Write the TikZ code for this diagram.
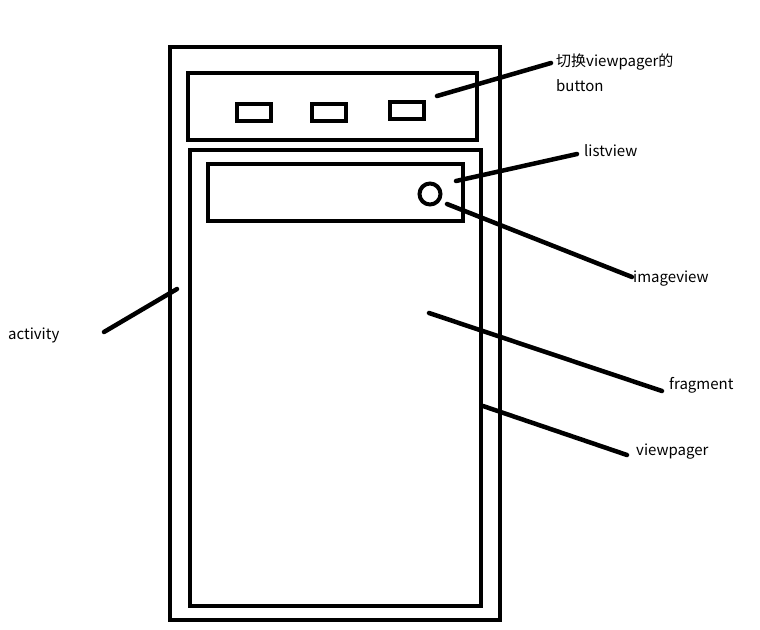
\documentclass[tikz,border=0pt]{standalone}
\usepackage{fontspec}
\setmainfont{Noto Sans CJK SC}
\usetikzlibrary{positioning}

\tikzset{
  frame/.style={line width=4.5pt},
  pointer/.style={line width=4.5pt, line cap=round},
  lbl/.style={anchor=west, inner sep=0pt, font=\fontsize{15pt}{25pt}\selectfont}
}

\begin{document}
\begin{tikzpicture}[x=1pt, y=-1pt]
  \path[use as bounding box, fill=white] (0, 0) rectangle (760, 629);

  % activity and its parts
  \draw[frame] (170, 47) rectangle (500, 620);
  \draw[frame] (188, 73) rectangle (477, 140);
  \foreach \x/\y in {237/104, 312/104, 390/102} {
    \draw[frame] (\x, \y) rectangle +(34, 17);
  }
  \draw[frame] (190, 150) rectangle (481, 606);
  \draw[frame] (208, 164) rectangle (463, 221);
  \draw[line width=4pt] (430, 194) circle (10.5);

  % labels
  \node[lbl, align=left] at (556, 73) (button) {切换viewpager的\\button};
  \node[lbl] at (584, 151) (listview) {listview};
  \node[lbl] at (633, 279) (imageview) {imageview};
  \node[lbl] at (8, 335) (activity) {activity};
  \node[lbl] at (669, 385) (fragment) {fragment};
  \node[lbl] at (636, 452) (viewpager) {viewpager};

  \coordinate (buttonend) at (551, 63);
  \coordinate (listviewend) at (577, 154);
  \coordinate (imageviewend) at (632, 277);
  \coordinate (activityend) at (104, 332);
  \coordinate (fragmentend) at (662, 391);
  \coordinate (viewpagerend) at (627, 455);

  \draw[pointer] (437, 96) -- (buttonend);
  \draw[pointer] (456, 181) -- (listviewend);
  \draw[pointer] (447, 204) -- (imageviewend);
  \draw[pointer] (activityend) -- (177, 289);
  \draw[pointer] (429, 313) -- (fragmentend);
  \draw[pointer] (483, 406) -- (viewpagerend);
\end{tikzpicture}
\end{document}
